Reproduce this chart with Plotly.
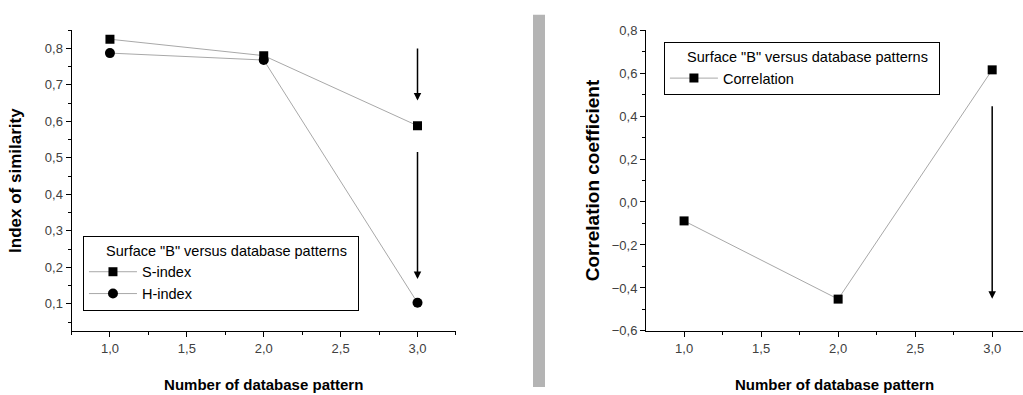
import plotly.graph_objects as go

# Data
patterns = [1.0, 2.0, 3.0]
s_index = [0.825, 0.780, 0.588]
h_index = [0.787, 0.768, 0.103]
correlation = [-0.088, -0.452, 0.615]

legend_title = 'Surface "B" versus database patterns'
x_title = "Number of database pattern"
y1_title = "Index of similarity"
y2_title = "Correlation coefficient"

FONT = "Liberation Sans, Arial, sans-serif"
LINE_COL = "#a8a8a8"
PAD_L = "\u00a0" * 5
PAD_R = "\u00a0" * 2

fig = go.Figure()

fig.add_trace(go.Scatter(x=patterns, y=s_index, name="S-index", mode="lines+markers",
                         line=dict(color=LINE_COL, width=1),
                         marker=dict(symbol="square", size=9, color="black"),
                         xaxis="x", yaxis="y", legend="legend"))
fig.add_trace(go.Scatter(x=patterns, y=h_index, name="H-index", mode="lines+markers",
                         line=dict(color=LINE_COL, width=1),
                         marker=dict(symbol="circle", size=10, color="black"),
                         xaxis="x", yaxis="y", legend="legend"))
fig.add_trace(go.Scatter(x=patterns, y=correlation, name="Correlation", mode="lines+markers",
                         line=dict(color=LINE_COL, width=1),
                         marker=dict(symbol="square", size=9, color="black"),
                         xaxis="x2", yaxis="y2", legend="legend2"))

axis_common = dict(showgrid=False, zeroline=False, showline=True, linecolor="black",
                   linewidth=1, ticks="outside", ticklen=5, tickcolor="black",
                   tickfont=dict(family=FONT, size=13, color="#404040"),
                   tickformat=".1f", mirror=False)

def tfont(size):
    return dict(family=FONT, size=size, color="black", weight="bold")

legend_common = dict(xanchor="left", yanchor="top", bordercolor="black", borderwidth=1,
                     bgcolor="white", itemwidth=48,
                     title=dict(text=PAD_L + legend_title + PAD_R,
                                font=dict(family=FONT, size=14.5, color="black")),
                     font=dict(family=FONT, size=14.5, color="black"), tracegroupgap=0)

fig.update_layout(
    width=1023, height=395,
    margin=dict(l=0, r=0, t=0, b=0),
    paper_bgcolor="white", plot_bgcolor="white",
    separators=",.",
    font=dict(family=FONT),
    xaxis=dict(domain=[0.0699, 0.4457], range=[0.75, 3.25], tickvals=[1.0, 1.5, 2.0, 2.5, 3.0],
               minor=dict(dtick=0.25, tick0=0.75, ticks="outside", ticklen=3, tickcolor="black"),
               anchor="y", title=dict(text=x_title, font=tfont(15), standoff=24), **axis_common),
    yaxis=dict(domain=[0.1468, 0.9392], range=[0.025, 0.85],
               tickvals=[0.1, 0.2, 0.3, 0.4, 0.5, 0.6, 0.7, 0.8],
               minor=dict(dtick=0.05, tick0=0.05, ticks="outside", ticklen=3, tickcolor="black"),
               anchor="x", title=dict(text=y1_title, font=tfont(17), standoff=18), **axis_common),
    xaxis2=dict(domain=[0.6315, 1.0], range=[0.753, 3.2], tickvals=[1.0, 1.5, 2.0, 2.5, 3.0],
                minor=dict(dtick=0.25, tick0=0.75, ticks="outside", ticklen=3, tickcolor="black"),
                anchor="y2", title=dict(text=x_title, font=tfont(15), standoff=24), **axis_common),
    yaxis2=dict(domain=[0.1476, 0.9392], range=[-0.6, 0.8],
                tickvals=[-0.6, -0.4, -0.2, 0.0, 0.2, 0.4, 0.6, 0.8],
                minor=dict(dtick=0.1, tick0=-0.6, ticks="outside", ticklen=3, tickcolor="black"),
                anchor="x2", title=dict(text=y2_title, font=tfont(19), standoff=7), **axis_common),
    legend=dict(x=0.0811, y=0.3975, **legend_common),
    legend2=dict(x=0.649, y=0.907, **legend_common),
    showlegend=True,
)

# separator bar
fig.add_shape(type="rect", xref="paper", yref="paper", x0=533/1023, x1=545/1023,
              y0=0, y1=(395-8)/395, fillcolor="#b4b4b4", line=dict(width=0), layer="below")

# arrows
arrows = [
    ("x", "y", 3.0, 0.804, 0.657),
    ("x", "y", 3.0, 0.520, 0.168),
    ("x2", "y2", 3.0, 0.452, -0.450),
]
for xr, yr, xv, y_from, y_to in arrows:
    fig.add_annotation(x=xv, y=y_to, ax=xv, ay=y_from, xref=xr, yref=yr, axref=xr, ayref=yr,
                       showarrow=True, arrowhead=2, arrowsize=1, arrowwidth=1.5,
                       arrowcolor="black", text="")

fig.write_html("out.html")
